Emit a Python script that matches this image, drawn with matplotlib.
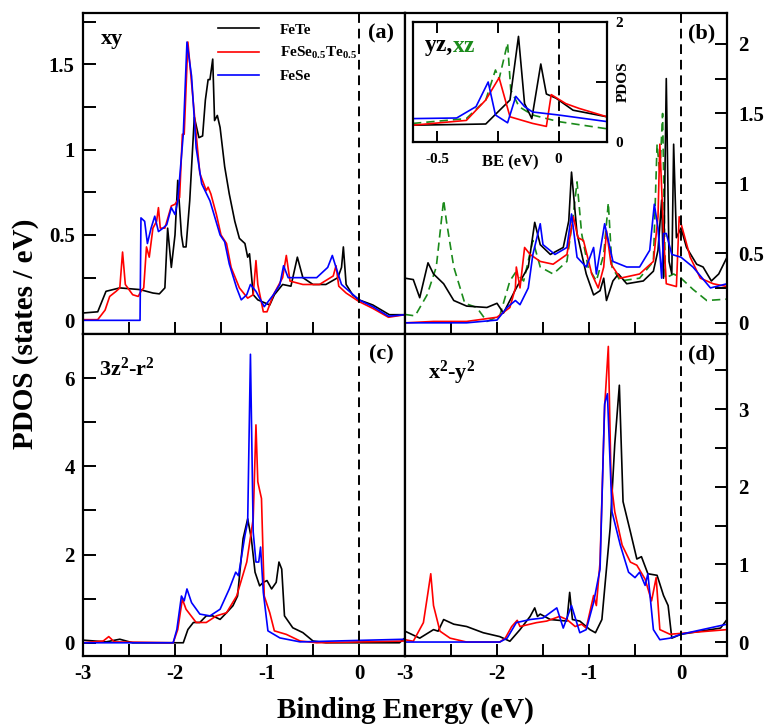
import matplotlib
matplotlib.use("Agg")
import matplotlib.pyplot as plt
from matplotlib.ticker import MultipleLocator, FixedLocator, FixedFormatter

# === Fontes ===
plt.rcParams["font.family"] = ["Liberation Serif", "DejaVu Serif"]
plt.rcParams["font.weight"] = "bold"
plt.rcParams["axes.labelweight"] = "bold"
plt.rcParams["mathtext.fontset"] = "custom"
plt.rcParams["mathtext.rm"] = "Liberation Serif:bold"
plt.rcParams["mathtext.it"] = "Liberation Serif:bold"
plt.rcParams["mathtext.bf"] = "Liberation Serif:bold"

# === (a) xy ===
e_a_fete = [-3, -2.84, -2.75, -2.6, -2.38, -2.24, -2.17, -2.11, -2.08, -2.04, -2.0, -1.97, -1.93, -1.91,
            -1.88, -1.84, -1.79, -1.74, -1.70, -1.67, -1.64, -1.62, -1.59, -1.57, -1.54, -1.51, -1.46,
            -1.41, -1.35, -1.30, -1.24, -1.21, -1.19, -1.15, -1.10, -0.97, -0.92, -0.83, -0.74, -0.67,
            -0.61, -0.5, -0.36, -0.23, -0.19, -0.17, -0.14, -0.07, 0, 0.15, 0.33, 0.5]
v_a_fete = [0.043, 0.05, 0.17, 0.19, 0.18, 0.16, 0.155, 0.19, 0.54, 0.31, 0.50, 0.82, 0.50, 0.43,
            0.43, 0.70, 1.19, 1.07, 1.08, 1.29, 1.41, 1.41, 1.53, 1.17, 1.2, 1.13, 0.90,
            0.74, 0.58, 0.48, 0.45, 0.37, 0.39, 0.15, 0.12, 0.09, 0.15, 0.21, 0.2, 0.37,
            0.25, 0.21, 0.21, 0.25, 0.31, 0.43, 0.21, 0.15, 0.12, 0.09, 0.033, 0.033]
e_a_mix = [-3, -2.84, -2.76, -2.71, -2.64, -2.6, -2.57, -2.54, -2.46, -2.40, -2.37, -2.34, -2.31, -2.28,
           -2.24, -2.20, -2.18, -2.16, -2.11, -2.04, -2.0, -1.95, -1.92, -1.9, -1.86, -1.82, -1.77,
           -1.73, -1.66, -1.64, -1.61, -1.55, -1.5, -1.44, -1.39, -1.30, -1.21, -1.15, -1.12, -1.10,
           -1.04, -1.0, -0.93, -0.83, -0.79, -0.75, -0.61, -0.43, -0.28, -0.25, -0.22, -0.14, 0,
           0.15, 0.32, 0.5]
v_a_mix = [0.004, 0.004, 0.06, 0.14, 0.17, 0.19, 0.40, 0.21, 0.15, 0.14, 0.17, 0.19, 0.43, 0.37,
           0.54, 0.58, 0.66, 0.54, 0.54, 0.67, 0.68, 0.72, 1.09, 1.09, 1.63, 1.39, 1.09,
           0.86, 0.76, 0.78, 0.74, 0.62, 0.50, 0.45, 0.31, 0.19, 0.13, 0.15, 0.35, 0.21,
           0.05, 0.05, 0.15, 0.25, 0.38, 0.23, 0.21, 0.21, 0.26, 0.32, 0.2, 0.16, 0.11,
           0.07, 0.018, 0.033]
e_a_fese = [-3, -2.38, -2.37, -2.33, -2.30, -2.26, -2.22, -2.18, -2.13, -2.09, -2.04, -2.0, -1.97,
            -1.91, -1.87, -1.82, -1.77, -1.71, -1.62, -1.51, -1.46, -1.41, -1.33, -1.28, -1.22,
            -1.18, -1.12, -1.03, -0.93, -0.86, -0.82, -0.77, -0.64, -0.46, -0.34, -0.29, -0.25,
            -0.19, 0, 0.15, 0.32, 0.5]
v_a_fese = [0, 0, 0.60, 0.58, 0.45, 0.54, 0.61, 0.52, 0.54, 0.56, 0.66, 0.62, 0.70,
            1.09, 1.63, 1.43, 1.01, 0.80, 0.70, 0.50, 0.46, 0.33, 0.19, 0.12, 0.15,
            0.21, 0.17, 0.08, 0.15, 0.21, 0.32, 0.25, 0.25, 0.25, 0.31, 0.38, 0.31,
            0.21, 0.12, 0.08, 0.024, 0.033]

# === (b) yz, xz ===
e_b_fete = [-3, -2.91, -2.84, -2.75, -2.69, -2.58, -2.47, -2.33, -2.11, -2.0, -1.93, -1.79, -1.66,
            -1.59, -1.53, -1.42, -1.28, -1.22, -1.19, -1.13, -1.03, -0.95, -0.88, -0.84, -0.81,
            -0.74, -0.68, -0.59, -0.41, -0.30, -0.25, -0.21, -0.19, -0.16, -0.13, -0.10, -0.08,
            -0.05, 0.0, 0.06, 0.17, 0.24, 0.33, 0.41, 0.5]
v_b_fete = [0.32, 0.31, 0.18, 0.43, 0.35, 0.28, 0.16, 0.12, 0.11, 0.14, 0.07, 0.25, 0.40,
            0.72, 0.56, 0.49, 0.54, 0.73, 1.08, 0.64, 0.35, 0.20, 0.23, 0.32, 0.16,
            0.30, 0.35, 0.28, 0.30, 0.37, 0.52, 0.88, 0.32, 1.75, 0.44, 0.35, 1.28,
            0.61, 0.68, 0.54, 0.42, 0.40, 0.30, 0.35, 0.47]
e_b_xz = [-3, -2.89, -2.76, -2.66, -2.58, -2.55, -2.47, -2.35, -2.22, -2.11, -1.97, -1.86, -1.80,
          -1.71, -1.61, -1.53, -1.39, -1.24, -1.17, -1.13, -1.08, -1.01, -0.92, -0.84, -0.79,
          -0.75, -0.66, -0.45, -0.30, -0.26, -0.23, -0.20, -0.17, -0.08, 0, 0.13, 0.28, 0.5]
v_b_xz = [0.06, 0.05, 0.20, 0.40, 0.88, 0.73, 0.40, 0.14, 0.11, 0.01, 0.05, 0.30, 0.36,
          0.30, 0.59, 0.40, 0.35, 0.44, 0.78, 1.01, 0.64, 0.40, 0.30, 0.49, 0.86,
          0.40, 0.30, 0.32, 0.44, 1.28, 1.07, 1.50, 0.32, 0.35, 0.32, 0.24, 0.16, 0.17]
e_b_mix = [-3, -2.69, -2.33, -2.0, -1.86, -1.80, -1.79, -1.75, -1.70, -1.64, -1.53, -1.39, -1.24,
           -1.17, -1.12, -1.06, -0.97, -0.90, -0.84, -0.81, -0.76, -0.66, -0.45, -0.30, -0.25,
           -0.23, -0.19, -0.16, -0.05, -0.02, 0.03, 0.10, 0.21, 0.35, 0.5]
v_b_mix = [0, 0.01, 0.01, 0.04, 0.11, 0.25, 0.40, 0.25, 0.54, 0.49, 0.44, 0.42, 0.49,
           0.76, 0.61, 0.59, 0.35, 0.25, 0.40, 0.66, 0.42, 0.32, 0.35, 0.44, 0.76,
           1.28, 0.64, 0.28, 0.26, 0.76, 0.64, 0.47, 0.32, 0.28, 0.26]
e_b_fese = [-3, -2.33, -2.0, -1.89, -1.80, -1.75, -1.66, -1.61, -1.53, -1.50, -1.37, -1.24, -1.19,
            -1.13, -1.03, -0.95, -0.92, -0.83, -0.74, -0.59, -0.45, -0.34, -0.29, -0.25, -0.21,
            -0.19, -0.16, -0.10, 0, 0.13, 0.32, 0.5]
v_b_fese = [0, 0, 0.02, 0.11, 0.16, 0.13, 0.25, 0.49, 0.71, 0.56, 0.49, 0.54, 0.78,
            0.47, 0.40, 0.54, 0.35, 0.71, 0.44, 0.40, 0.40, 0.52, 0.85, 0.68, 0.32,
            0.64, 0.64, 0.49, 0.47, 0.40, 0.25, 0.28]

# === inset (b) ===
e_in_fete = [-0.6, -0.3, -0.2, -0.165, -0.14, -0.11, -0.073, -0.05, -0.01, 0.06, 0.2]
v_in_fete = [0.28, 0.30, 0.7, 1.76, 0.64, 0.39, 1.3, 0.8, 0.73, 0.53, 0.42]
e_in_xz = [-0.6, -0.38, -0.3, -0.26, -0.245, -0.21, -0.197, -0.163, -0.107, 0, 0.2]
v_in_xz = [0.31, 0.39, 0.7, 1.2, 1.05, 1.65, 0.87, 0.59, 0.45, 0.34, 0.22]
e_in_mix = [-0.6, -0.38, -0.3, -0.245, -0.2, -0.107, -0.05, -0.03, 0.03, 0.085, 0.2]
v_in_mix = [0.28, 0.36, 0.7, 1.07, 0.42, 0.31, 0.26, 0.79, 0.64, 0.56, 0.42]
e_in_fese = [-0.6, -0.42, -0.34, -0.29, -0.26, -0.21, -0.176, -0.14, -0.107, 0, 0.2]
v_in_fese = [0.39, 0.40, 0.59, 1.0, 0.45, 0.32, 0.76, 0.59, 0.5, 0.45, 0.34]

# === (c) 3z2-r2 ===
e_c_fete = [-3, -2.75, -2.6, -2.46, -2.02, -1.91, -1.86, -1.80, -1.73, -1.66, -1.59, -1.51, -1.44,
            -1.37, -1.32, -1.26, -1.21, -1.17, -1.13, -1.08, -1.04, -1.0, -0.95, -0.90, -0.87,
            -0.84, -0.81, -0.72, -0.61, -0.5, -0.36, 0.44, 0.5]
v_c_fete = [0.06, 0.02, 0.08, 0, 0, 0, 0.30, 0.46, 0.46, 0.61, 0.61, 0.53, 0.68,
            0.84, 1.06, 2.36, 2.81, 2.36, 1.60, 1.29, 1.37, 1.41, 1.22, 1.37, 1.83,
            1.67, 0.61, 0.34, 0.23, 0.04, 0, 0, 0.11]
e_c_mix = [-3, -2.78, -2.72, -2.66, -2.02, -1.97, -1.92, -1.88, -1.77, -1.66, -1.55, -1.44, -1.33,
           -1.22, -1.15, -1.12, -1.10, -1.06, -1.03, -0.97, -0.92, -0.79, -0.64, -0.46, 0.5]
v_c_mix = [0, 0.04, 0.14, 0.02, 0, 0.30, 0.99, 0.76, 0.46, 0.46, 0.61, 0.68, 1.06,
           1.83, 2.81, 4.94, 3.65, 3.27, 1.06, 0.68, 0.27, 0.19, 0.04, 0, 0.04]
e_c_fese = [-3, -2.02, -1.98, -1.93, -1.90, -1.87, -1.82, -1.73, -1.62, -1.51, -1.41, -1.34, -1.31,
            -1.24, -1.21, -1.18, -1.15, -1.12, -1.09, -1.07, -1.04, -0.99, -0.86, -0.64, 0.5]
v_c_fese = [0, 0, 0.30, 1.06, 0.95, 1.22, 0.91, 0.65, 0.61, 0.76, 1.22, 1.60, 1.52,
            2.43, 2.74, 6.54, 2.51, 1.83, 1.83, 2.17, 1.14, 0.27, 0.11, 0.02, 0.08]

# === (d) x2-y2 ===
e_d_fete = [-3, -2.84, -2.69, -2.64, -2.58, -2.47, -2.33, -2.15, -1.97, -1.86, -1.75, -1.64, -1.59,
            -1.56, -1.53, -1.42, -1.24, -1.21, -1.18, -1.10, -0.99, -0.93, -0.86, -0.77, -0.72,
            -0.67, -0.63, -0.55, -0.48, -0.43, -0.36, -0.26, -0.19, -0.14, -0.10, 0.0, 0.43, 0.5]
v_d_fete = [0.14, 0.05, 0.16, 0.14, 0.29, 0.23, 0.20, 0.12, 0.07, 0.01, 0.16, 0.33, 0.44,
            0.33, 0.36, 0.29, 0.27, 0.64, 0.29, 0.27, 0.16, 0.12, 0.29, 1.47, 2.55,
            3.31, 1.81, 1.42, 1.07, 1.10, 0.88, 0.86, 0.60, 0.47, 0.05, 0.10, 0.18, 0.29]
e_d_mix = [-3, -2.91, -2.80, -2.75, -2.72, -2.69, -2.62, -2.51, -2.33, -1.97, -1.91, -1.84, -1.78,
           -1.75, -1.57, -1.46, -1.32, -1.24, -1.15, -1.08, -1.03, -0.95, -0.92, -0.88, -0.83,
           -0.79, -0.76, -0.72, -0.64, -0.55, -0.48, -0.39, -0.32, -0.27, -0.23, -0.12, 0.5]
v_d_mix = [0.03, 0.01, 0.25, 0.64, 0.88, 0.47, 0.14, 0.05, 0, 0, 0.05, 0.20, 0.28,
           0.20, 0.25, 0.27, 0.33, 0.29, 0.20, 0.23, 0.18, 0.60, 0.47, 1.03, 3.03,
           3.81, 2.07, 1.68, 1.25, 1.03, 0.99, 0.81, 0.53, 0.83, 0.16, 0.10, 0.16]
e_d_fese = [-3, -1.97, -1.89, -1.79, -1.64, -1.50, -1.35, -1.28, -1.19, -1.10, -1.03, -0.95, -0.88,
            -0.83, -0.80, -0.75, -0.66, -0.57, -0.50, -0.45, -0.39, -0.36, -0.30, -0.23, -0.12,
            0, 0.5]
v_d_fese = [0, 0, 0.05, 0.25, 0.29, 0.31, 0.44, 0.18, 0.47, 0.12, 0.16, 0.51, 0.94,
            3.07, 3.20, 1.68, 1.25, 0.90, 0.83, 0.90, 0.73, 0.88, 0.16, 0.03, 0.05,
            0.10, 0.23]

W, H = 768, 726
fig = plt.figure(figsize=(W / 100, H / 100), dpi=100)


def px_axes(x0, y0, x1, y1):
    return fig.add_axes([x0 / W, 1 - y1 / H, (x1 - x0) / W, (y1 - y0) / H])


ax_a = px_axes(83, 13, 405, 334)
ax_b = px_axes(405, 13, 727, 334)
ax_c = px_axes(83, 334, 405, 656)
ax_d = px_axes(405, 334, 727, 656)

lw = 1.2
for ax, series in [
    (ax_a, [(e_a_fete, v_a_fete, "k"), (e_a_mix, v_a_mix, "r"), (e_a_fese, v_a_fese, "b")]),
    (ax_b, [(e_b_xz, v_b_xz, "g"), (e_b_fete, v_b_fete, "k"), (e_b_mix, v_b_mix, "r"), (e_b_fese, v_b_fese, "b")]),
    (ax_c, [(e_c_fete, v_c_fete, "k"), (e_c_mix, v_c_mix, "r"), (e_c_fese, v_c_fese, "b")]),
    (ax_d, [(e_d_fete, v_d_fete, "k"), (e_d_mix, v_d_mix, "r"), (e_d_fese, v_d_fese, "b")]),
]:
    for e, v, c in series:
        if c == "g":
            ax.plot(e, v, color="#1a8a1a", lw=lw, ls=(0, (5, 3)))
        else:
            ax.plot(e, v, color={"k": "black", "r": "#ff0000", "b": "#0000ff"}[c], lw=lw)
    ax.axvline(0, color="black", lw=1.4, ls=(0, (5, 3)))
    ax.set_xlim(-3, 0.5)
    ax.xaxis.set_major_locator(MultipleLocator(1))
    ax.xaxis.set_minor_locator(MultipleLocator(0.5))
    ax.tick_params(which="both", direction="in", length=9, width=1.4, labelsize=15)
    for sp in ax.spines.values():
        sp.set_linewidth(1.6)

ax_a.set_ylim(-0.08, 1.8)
ax_a.yaxis.set_major_locator(MultipleLocator(0.5))
ax_a.yaxis.set_minor_locator(MultipleLocator(0.25))
ax_b.set_ylim(-0.08, 2.22)
ax_b.yaxis.set_major_locator(MultipleLocator(0.5))
ax_b.yaxis.set_minor_locator(MultipleLocator(0.25))
ax_c.set_ylim(-0.3, 7)
ax_c.yaxis.set_major_locator(MultipleLocator(2))
ax_c.yaxis.set_minor_locator(MultipleLocator(1))
ax_d.set_ylim(-0.18, 3.97)
ax_d.yaxis.set_major_locator(MultipleLocator(1))
ax_d.yaxis.set_minor_locator(MultipleLocator(0.5))

fmt = lambda val, pos: f"{val:g}"
for ax in [ax_a, ax_b, ax_c, ax_d]:
    ax.yaxis.set_major_formatter(fmt)
    ax.xaxis.set_major_formatter(fmt)
for ax in [ax_b, ax_d]:
    ax.yaxis.tick_right()
    ax.tick_params(axis="y", which="both", left=False, pad=8)
for ax in [ax_a, ax_c]:
    ax.tick_params(axis="y", pad=6)
for ax in [ax_a, ax_b]:
    ax.tick_params(axis="x", labelbottom=False)
for ax in [ax_c, ax_d]:
    ax.tick_params(axis="x", pad=6)

# === textos ===
ax_a.text(0.055, 0.92, "xy", transform=ax_a.transAxes, fontsize=16, va="center")
ax_c.text(0.05, 0.89, "3z$^{2}$-r$^{2}$", transform=ax_c.transAxes, fontsize=16, va="center")
ax_d.text(0.07, 0.88, "x$^{2}$-y$^{2}$", transform=ax_d.transAxes, fontsize=16, va="center")
for ax, lab in [(ax_a, "(a)"), (ax_b, "(b)"), (ax_c, "(c)"), (ax_d, "(d)")]:
    ax.text(0.965, 0.935, lab, transform=ax.transAxes, fontsize=16, ha="right", va="center")

ax_a.legend(ax_a.lines[:3], ["FeTe", "FeSe$_{0.5}$Te$_{0.5}$", "FeSe"], loc="upper left",
            bbox_to_anchor=(0.375, 1.012), frameon=False, handlelength=2.7, handletextpad=1.4,
            labelspacing=0.55, prop={"size": 11, "weight": "bold"})

fig.text(0.033, 0.54, "PDOS (states / eV)", rotation=90, fontsize=21, ha="center", va="center")
fig.text(0.528, 0.021, "Binding Energy (eV)", fontsize=21, ha="center", va="center")

# === inset ===
ax_in = px_axes(413, 22, 607, 142)
ax_in.plot(e_in_xz, v_in_xz, color="#1a8a1a", lw=lw, ls=(0, (5, 3)))
ax_in.plot(e_in_fete, v_in_fete, color="black", lw=lw)
ax_in.plot(e_in_mix, v_in_mix, color="#ff0000", lw=lw)
ax_in.plot(e_in_fese, v_in_fese, color="#0000ff", lw=lw)
ax_in.axvline(0, color="black", lw=1.4, ls=(0, (5, 3)))
ax_in.set_xlim(-0.6, 0.2)
ax_in.set_ylim(0, 2)
ax_in.xaxis.set_major_locator(FixedLocator([-0.5, -0.25, 0]))
ax_in.xaxis.set_major_formatter(FixedFormatter(["-0.5", "", "0"]))
ax_in.yaxis.set_major_locator(FixedLocator([0, 1, 2]))
ax_in.yaxis.set_major_formatter(FixedFormatter(["0", "", "2"]))
ax_in.yaxis.tick_right()
ax_in.tick_params(which="both", direction="in", length=8, width=1.4, labelsize=11, top=True, pad=8)
ax_in.tick_params(axis="y", left=False, pad=6)
for sp in ax_in.spines.values():
    sp.set_linewidth(1.6)
ax_in.set_xlabel("BE (eV)", fontsize=12)
ax_in.xaxis.set_label_coords(0.5, -0.1)
ax_in.set_ylabel("PDOS", fontsize=11, rotation=90)
ax_in.yaxis.set_label_position("right")
ax_in.yaxis.set_label_coords(1.05, 0.5)
ax_in.text(0.06, 0.8, "yz,", transform=ax_in.transAxes, fontsize=17, va="center")
ax_in.text(0.205, 0.8, "xz", transform=ax_in.transAxes, fontsize=17, va="center", color="#1a8a1a")

fig.savefig("out.png", dpi=100)
